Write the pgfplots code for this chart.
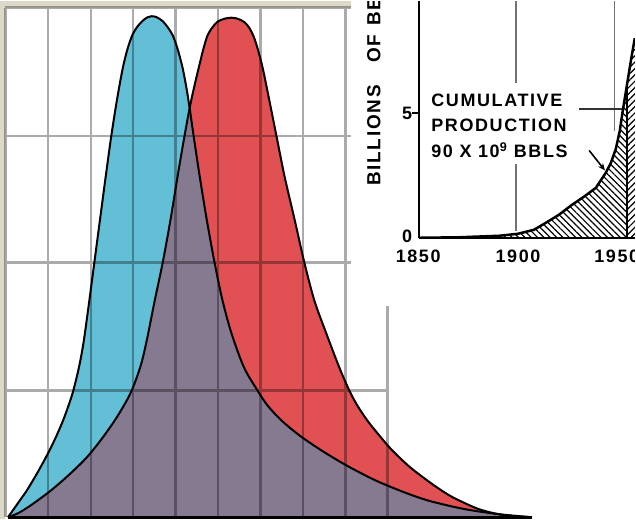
\documentclass[border=0pt]{standalone}
\usepackage{fontspec}
\setmainfont{Liberation Sans}
\newfontfamily\lettering[LetterSpace=9]{Liberation Sans}
\usepackage{pgfplots}
\pgfplotsset{compat=1.18}
\usetikzlibrary{patterns.meta,arrows.meta}

\definecolor{cyanc}{RGB}{98,191,214}
\definecolor{redc}{RGB}{225,80,82}
\definecolor{purplec}{RGB}{134,122,145}
\definecolor{beige}{RGB}{220,217,200}

\newcommand\txt{\lettering\bfseries\fontsize{18bp}{20bp}\selectfont}
\newcommand\lab{\lettering\bfseries\fontsize{19bp}{21bp}\selectfont}

% curve readings, pixel coordinates of the picture (y downwards)
\pgfplotstableread{
x y
8 517
13 510
20 500
27 490
36 475
46 457
54.5 440
62 423
68 407
73.5 390
79.5 365
84 340
89.5 300
94.5 262
100.3 218
106 175
111.5 135
117 100
123 67
128 47
133 33
138 25
143 19.5
148 16
152 15
157 16
163 20
168 26
173 34
178 48
183 67
187 88
190 107
194 135
200 175
207 218
215 262
223 300
232 333
244.5 367
258 390
268 405
282 420
300 435
322 450
347 465
376 480
405 492
428 500
452 506
472 510
500 514
533 517
}\cyancurve

\pgfplotstableread{
x y
8 517
18 513
28 507
38 500
50 491
63 480
75 469
87 457
100 441
113 423
123 407
132 390
141 365
147 340
155 300
163 262
171 218
178 175
184 140
190 107
195 84
200 63
204 47
208 34
213 26
218 20.5
225 17.5
232 16.5
238 17.5
245 21
250 27
254 35
258 47
263 66
270 100
277 135
285 175
295 218
305 262
315 300
327 333
340 367
350 390
358 405
368 420
380 435
393 450
411 467
432 483
450 495
466 503
480 509
495 513
510 515.5
533 517
}\redcurve

% overlap: left flank of the right peak, then right flank of the left peak
\pgfplotstableread{
x y
8 517
18 513
28 507
38 500
50 491
63 480
75 469
87 457
100 441
113 423
123 407
132 390
141 365
147 340
155 300
163 262
171 218
178 175
184 140
190 107
194 135
200 175
207 218
215 262
223 300
232 333
244.5 367
258 390
268 405
282 420
300 435
322 450
347 465
376 480
405 492
428 500
452 506
472 510
500 514
533 517
}\overlap

% cumulative production inset (year, billions of barrels)
\pgfplotstableread{
year val
1850 0
1870.2 0.02
1890.4 0.08
1900 0.16
1908.1 0.32
1914.1 0.6
1920.7 0.92
1927.3 1.32
1933.3 1.64
1939.4 2.0
1944.4 2.6
1947 3.0
1949.5 3.56
1951.5 4.28
1953 5.08
1955.05 6.08
1957.1 7.08
1959.1 8.0
}\prod

\begin{document}
\begin{tikzpicture}

\begin{axis}[at={(0,0)}, anchor=south west, width=636bp, height=519bp,
  scale only axis, xmin=0, xmax=636, ymin=0, ymax=519, y dir=reverse,
  hide axis, clip=true]

\addplot[fill=beige, draw=none] coordinates {(0,0) (352,0) (352,6.5) (5.5,6.5) (5.5,519) (0,519)};

\addplot[smooth, draw=none, fill=cyanc] table[x=x, y=y] {\cyancurve};
\addplot[smooth, draw=none, fill=redc] table[x=x, y=y] {\redcurve};
\addplot[draw=none, fill=purplec] table[x=x, y=y] {\overlap};
\addplot[smooth, black, line width=2bp] table[x=x, y=y] {\cyancurve};
\addplot[smooth, black, line width=2bp] table[x=x, y=y] {\redcurve};

% grid
\addplot[black, opacity=0.33, line width=2.5bp, unbounded coords=jump] coordinates {
(5.5,6.5) (5.5,517) (nan,nan) (48,6.5) (48,517) (nan,nan) (91,6.5) (91,517) (nan,nan)
(133.5,6.5) (133.5,517) (nan,nan) (176,6.5) (176,517) (nan,nan) (218.5,6.5) (218.5,517) (nan,nan)
(261,6.5) (261,517) (nan,nan) (303.5,6.5) (303.5,517) (nan,nan) (346,6.5) (346,517) (nan,nan)
(388.5,305) (388.5,517) (nan,nan) (5.5,6.5) (352,6.5) (nan,nan) (5.5,135) (352,135) (nan,nan)
(5.5,262) (352,262) (nan,nan) (5.5,390) (388.5,390)};

\addplot[black, line width=3bp] coordinates {(8,517.5) (533,517.5)};

% inset background
\addplot[fill=white, draw=none] coordinates {(352,0) (636,0) (636,305) (352,305)};

\node[rotate=90, anchor=west, inner sep=0pt, font=\lab] at (axis cs:374.5,185) {BILLIONS};
\node[rotate=90, anchor=west, inner sep=0pt, font=\lab] at (axis cs:374.5,62) {OF};
\node[rotate=90, anchor=west, inner sep=0pt, font=\lab, overlay] at (axis cs:374.5,25) {BE};
\node[anchor=base west, inner sep=0pt, font=\txt] at (axis cs:432,105) {CUMULATIVE};
\node[anchor=base west, inner sep=0pt, font=\txt] at (axis cs:432,131) {PRODUCTION};
\node[anchor=base west, inner sep=0pt, font=\txt] at (axis cs:432,157) {90 X 10\textsuperscript{9} BBLS};
\node[anchor=east, inner sep=0pt, font=\txt] at (axis cs:413,236) {0};
\node[anchor=east, inner sep=0pt, font=\txt] at (axis cs:413,112) {5};
\node[anchor=north, inner sep=0pt, font=\txt] at (axis cs:419,249) {1850};
\node[anchor=north, inner sep=0pt, font=\txt] at (axis cs:519,249) {1900};
\node[anchor=north, inner sep=0pt, font=\txt, overlay] at (axis cs:618,249) {1950};
\end{axis}

\begin{axis}[at={(420bp,282bp)}, anchor=south west, width=216bp, height=237bp,
  scale only axis, xmin=1850, xmax=1959.09, ymin=0, ymax=9.48,
  axis x line=bottom, axis y line=left, axis line style={-, line width=2.5bp},
  xtick=\empty, ytick={5}, yticklabels={},
  y tick style={black, line width=1.2bp}, tick align=outside, major tick length=7bp]

\addplot[draw=none, pattern={Lines[angle=-45,distance=4.5bp,line width=1.2bp]}] coordinates {
(1850,0) (1870.2,0.02) (1890.4,0.08) (1900,0.16) (1908.1,0.32) (1914.1,0.6) (1920.7,0.92)
(1927.3,1.32) (1933.3,1.64) (1939.4,2.0) (1944.4,2.6) (1947,3.0) (1949.5,3.56)
(1951.5,4.28) (1953,5.08) (1955.05,6.08) (1955.05,0)};
\addplot[draw=none, pattern={Lines[angle=45,distance=4.5bp,line width=1.2bp]}] coordinates {
(1955.05,0) (1955.05,6.08) (1957.1,7.08) (1959.1,8.0) (1959.1,0)};
\addplot[black, line width=2.5bp] table[x=year, y=val] {\prod};
\addplot[black, line width=2bp] coordinates {(1955.05,0) (1955.05,6.16)};
\addplot[black!55, line width=1.2bp, unbounded coords=jump] coordinates {
(1899,9.48) (1899,6.2) (nan,nan) (1899,2.96) (1899,0.28) (nan,nan) (1949,9.48) (1949,4.28)};
\addplot[black!80, line width=1.2bp] coordinates {(1930.8,5.16) (1952.5,5.16)};
\addplot[black, line width=1.6bp, -{Stealth[length=7bp,width=6bp]}] coordinates {(1936,3.5) (1944,2.7)};
\end{axis}
\end{tikzpicture}
\end{document}
